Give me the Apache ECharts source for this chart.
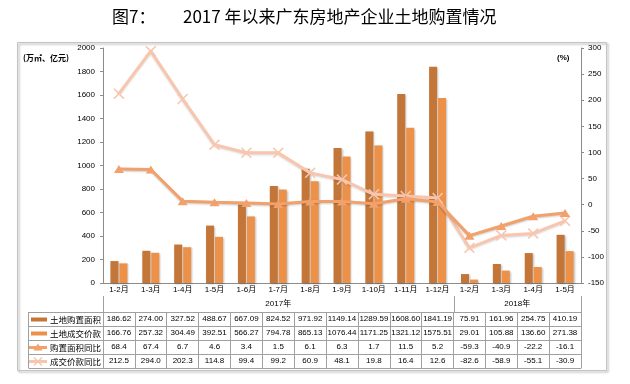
<!DOCTYPE html>
<html><head><meta charset="utf-8">
<script src="https://cdn.jsdelivr.net/npm/echarts@6/dist/echarts.min.js"></script>
<style>html,body{margin:0;padding:0;background:#fff}#c{width:630px;height:384px}</style>
</head><body><div id="c"></div>
<script>
// ---------- data ----------
const categories = ['1-2月','1-3月','1-4月','1-5月','1-6月','1-7月','1-8月','1-9月','1-10月','1-11月','1-12月','1-2月','1-3月','1-4月','1-5月'];
const years = ['2017年','2018年'];
const yearSpans = [11, 4];
const seriesNames = ['土地购置面积','土地成交价款','购置面积同比','成交价款同比'];
const landArea  = [186.62, 274.00, 327.52, 488.67, 667.09, 824.52, 971.92, 1149.14, 1289.59, 1608.60, 1841.19, 75.91, 161.96, 254.75, 410.19];
const landPrice = [166.76, 257.32, 304.49, 392.51, 566.27, 794.78, 865.13, 1076.44, 1171.25, 1321.12, 1575.51, 29.01, 105.88, 136.60, 271.38];
const areaYoY   = [68.4, 67.4, 6.7, 4.6, 3.4, 1.5, 6.1, 6.3, 1.7, 11.5, 5.2, -59.3, -40.9, -22.2, -16.1];
const priceYoY  = [212.5, 294.0, 202.3, 114.8, 99.4, 99.2, 60.9, 48.1, 19.8, 16.4, 12.6, -82.6, -58.9, -55.1, -30.9];
const leftAxis  = {min: 0, max: 2000, interval: 200};
const rightAxis = {min: -150, max: 300, interval: 50};
const leftUnit = '(万㎡、亿元)';
const rightUnit = '(%)';
const titleA = '图7：';
const titleB = '2017 年以来广东房地产企业土地购置情况';

// ---------- style ----------
const FONT = "'Liberation Sans','Noto Sans CJK SC',Arial,sans-serif";
const CJK = "'Noto Sans CJK SC','Liberation Sans',sans-serif";
const tableGray = '#a0a0a0';
const axisGray = '#8c8c8c';
const colors = ['#C47638', '#EC9147', '#F2A06C', '#F8C6AE'];
const xSym = 'path://M1,0L5,4L9,0L10,1L6,5L10,9L9,10L5,6L1,10L0,9L4,5L0,1Z';
const ROW_OFF0 = 29, ROW_H = 14, CAT_ROW = 13;
const rowData = [landArea, landPrice, areaYoY, priceYoY];
const rowFmt = [2, 2, 1, 1];

const chart = echarts.init(document.getElementById('c'));

const xAxes = [{
  type: 'category', data: categories, position: 'bottom',
  axisLine: {onZero: false, lineStyle: {color: axisGray}},
  axisTick: {interval: 0, length: CAT_ROW, lineStyle: {color: tableGray}},
  axisLabel: {interval: 0, margin: 3, fontSize: 8, color: '#000', fontFamily: FONT},
  splitLine: {show: false}
}];
rowData.forEach((arr, r) => {
  xAxes.push({
    type: 'category', data: categories, position: 'bottom', offset: ROW_OFF0 + r * ROW_H,
    axisLine: {show: true, onZero: false, lineStyle: {color: tableGray}},
    axisTick: {show: true, interval: 0, length: ROW_H, lineStyle: {color: tableGray}},
    axisLabel: {interval: 0, margin: 3, fontSize: 8, color: '#000', fontFamily: FONT,
      formatter: (v, i) => arr[i].toFixed(rowFmt[r])},
    splitLine: {show: false}
  });
});
xAxes.push({
  type: 'category', data: categories, position: 'bottom', offset: ROW_OFF0 + 4 * ROW_H,
  axisLine: {show: true, onZero: false, lineStyle: {color: tableGray}},
  axisTick: {show: false}, axisLabel: {show: false}, splitLine: {show: false}
});

const shadow = {shadowColor: 'rgba(0,0,0,0.25)', shadowBlur: 2, shadowOffsetX: 1, shadowOffsetY: 1};
const plain = v => String(v);

chart.setOption({
  animation: false,
  title: [
    {text: titleA, left: 112, top: 8, padding: 0, textStyle: {fontSize: 17, fontWeight: 'normal', color: '#000', fontFamily: CJK}},
    {text: titleB, left: 183, top: 8, padding: 0, textStyle: {fontSize: 17, fontWeight: 'normal', color: '#000', fontFamily: CJK}}
  ],
  grid: {left: 103, right: 49, top: 48, bottom: 101, containLabel: false},
  xAxis: xAxes,
  yAxis: [
    {type: 'value', min: leftAxis.min, max: leftAxis.max, interval: leftAxis.interval, position: 'left',
      axisLine: {show: true, onZero: false, lineStyle: {color: axisGray}},
      axisTick: {show: true, length: 3, lineStyle: {color: axisGray}},
      splitLine: {show: false},
      axisLabel: {fontSize: 8, color: '#000', margin: 8, fontFamily: FONT, formatter: plain}},
    {type: 'value', min: rightAxis.min, max: rightAxis.max, interval: rightAxis.interval, position: 'right',
      axisLine: {show: true, onZero: false, lineStyle: {color: axisGray}},
      axisTick: {show: true, length: 3, lineStyle: {color: axisGray}},
      splitLine: {show: false},
      axisLabel: {fontSize: 8, color: '#000', margin: 7, fontFamily: FONT, formatter: plain}}
  ],
  series: [
    {name: seriesNames[0], type: 'bar', data: landArea, barWidth: 8, barGap: '12%',
      itemStyle: Object.assign({color: colors[0]}, shadow), z: 2},
    {name: seriesNames[1], type: 'bar', data: landPrice, barWidth: 8, barGap: '12%',
      itemStyle: Object.assign({color: colors[1]}, shadow), z: 2},
    {name: seriesNames[3], type: 'line', yAxisIndex: 1, data: priceYoY, symbol: xSym, symbolSize: 11,
      lineStyle: {color: colors[3], width: 3, shadowColor: 'rgba(0,0,0,0.15)', shadowBlur: 2, shadowOffsetY: 1},
      itemStyle: {color: colors[3]}, z: 3},
    {name: seriesNames[2], type: 'line', yAxisIndex: 1, data: areaYoY, symbol: 'triangle', symbolSize: [10, 8],
      lineStyle: {color: colors[2], width: 3, shadowColor: 'rgba(0,0,0,0.2)', shadowBlur: 2, shadowOffsetY: 1},
      itemStyle: {color: colors[2]}, z: 4}
  ]
});

// ---------- table frame, year row, legend column ----------
const px = i => chart.convertToPixel({xAxisIndex: 0}, i);
const y0 = Math.round(chart.convertToPixel({yAxisIndex: 0}, leftAxis.min));
const half = (px(1) - px(0)) / 2;
const xl = px(0) - half;
const LX = 28;
const g = [];
const ln = (x1, y1, x2, y2, c) => g.push({type: 'line', silent: true, z: 10,
  shape: {x1, y1, x2, y2}, style: {stroke: c || tableGray, lineWidth: 1}});

// outer chart border
g.push({type: 'rect', silent: true, z: 0, shape: {x: 17.5, y: 42.5, width: 589, height: 328},
  style: {fill: 'none', stroke: '#c4c4c4', lineWidth: 1, shadowColor: 'rgba(0,0,0,0.35)', shadowBlur: 2, shadowOffsetX: 1.5, shadowOffsetY: 1.5}});

// year row
const yrTop = y0 + CAT_ROW, yrBot = y0 + ROW_OFF0;
let start = 0;
const bounds = [xl];
years.forEach((yr, k) => {
  const end = start + yearSpans[k] - 1;
  const cx = (px(start) + px(end)) / 2;
  g.push({type: 'text', silent: true, z: 10, x: cx, y: (yrTop + yrBot) / 2,
    style: {text: yr, fontSize: 8, fontFamily: FONT, fill: '#000', align: 'center', verticalAlign: 'middle'}});
  bounds.push(px(end) + half);
  start = end + 1;
});
bounds.forEach(b => ln(Math.round(b) + 0.5, yrTop, Math.round(b) + 0.5, yrBot));

// legend column
for (let r = 0; r <= 4; r++) {
  const yy = y0 + ROW_OFF0 + r * ROW_H + 0.5;
  ln(LX + 0.5, yy, xl, yy);
}
ln(LX + 0.5, y0 + ROW_OFF0, LX + 0.5, y0 + ROW_OFF0 + 4 * ROW_H);

seriesNames.forEach((nm, r) => {
  const cy = y0 + ROW_OFF0 + r * ROW_H + ROW_H / 2 + 0.5;
  if (r < 2) {
    g.push({type: 'rect', silent: true, z: 10, shape: {x: 31, y: cy - 2, width: 16, height: 4},
      style: {fill: colors[r]}});
  } else {
    g.push({type: 'line', silent: true, z: 10, shape: {x1: 29, y1: cy, x2: 47, y2: cy},
      style: {stroke: colors[r], lineWidth: 3}});
    if (r === 2) {
      g.push({type: 'polygon', silent: true, z: 11, shape: {points: [[38, cy - 4], [42.5, cy + 3], [33.5, cy + 3]]},
        style: {fill: colors[r]}});
    } else {
      g.push({type: 'line', silent: true, z: 11, shape: {x1: 34, y1: cy - 4, x2: 42, y2: cy + 4}, style: {stroke: colors[r], lineWidth: 1.5}});
      g.push({type: 'line', silent: true, z: 11, shape: {x1: 42, y1: cy - 4, x2: 34, y2: cy + 4}, style: {stroke: colors[r], lineWidth: 1.5}});
    }
  }
  g.push({type: 'text', silent: true, z: 10, x: 101, y: cy,
    style: {text: nm, fontSize: 8.5, fontFamily: CJK, fill: '#000', align: 'right', verticalAlign: 'middle'}});
});

// unit labels
g.push({type: 'text', silent: true, z: 10, x: 23, y: 58,
  style: {text: leftUnit, fontSize: 8, fontWeight: 'bold', fontFamily: CJK, fill: '#000', verticalAlign: 'middle'}});
g.push({type: 'text', silent: true, z: 10, x: 557, y: 58,
  style: {text: rightUnit, fontSize: 8, fontWeight: 'bold', fontFamily: FONT, fill: '#000', verticalAlign: 'middle'}});

chart.setOption({graphic: {elements: g}});
</script>
</body></html>
